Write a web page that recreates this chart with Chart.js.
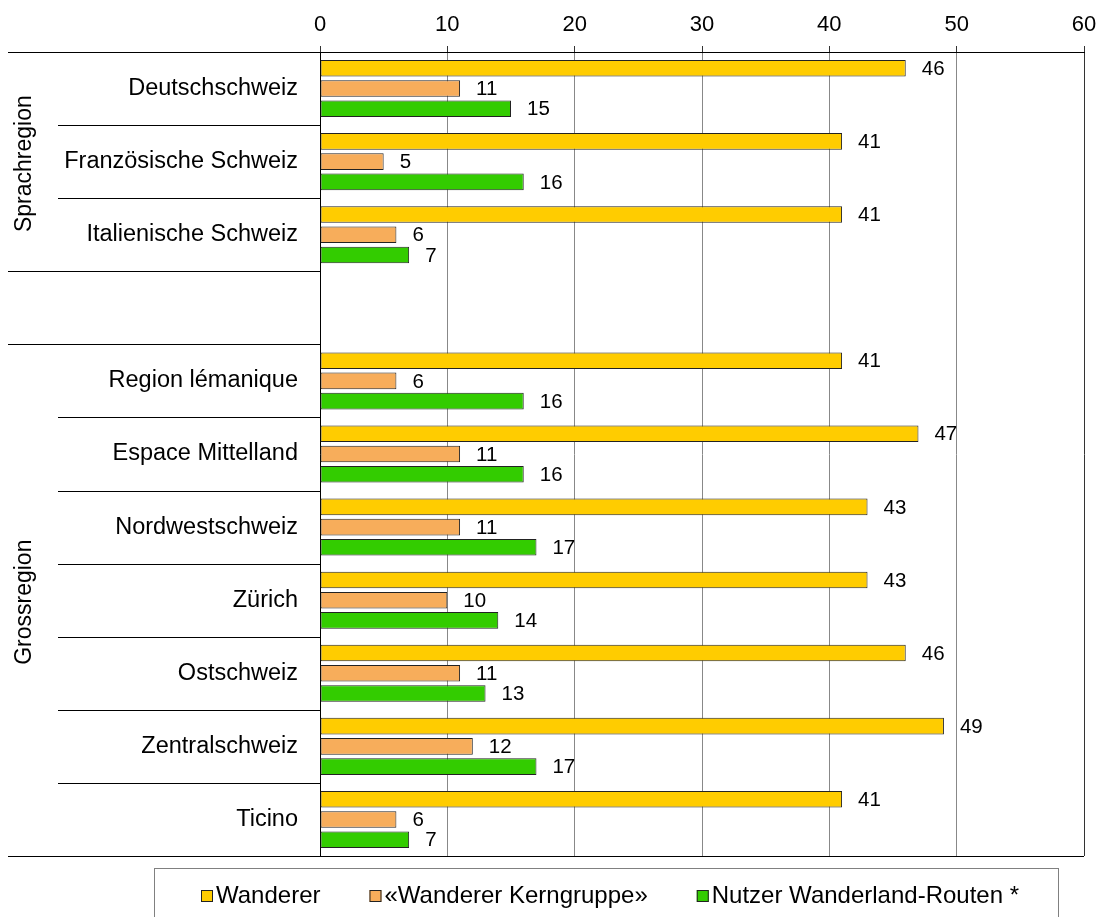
<!DOCTYPE html>
<html>
<head>
<meta charset="utf-8">
<script src="https://cdn.jsdelivr.net/npm/chart.js@4"></script>
<style>
  html, body { margin: 0; padding: 0; background: #fff; }
  #wrap { width: 1099px; height: 917px; }
</style>
</head>
<body>
<div id="wrap"><canvas id="wanderChart" width="1099" height="917"></canvas></div>
<script>
// categories (empty entry = gap between the two groups)
const regions = ['Deutschschweiz', 'Französische Schweiz', 'Italienische Schweiz', '',
  'Region lémanique', 'Espace Mittelland', 'Nordwestschweiz', 'Zürich',
  'Ostschweiz', 'Zentralschweiz', 'Ticino'];

// values in %
const wanderer   = [46, 41, 41, null, 41, 47, 43, 43, 46, 49, 41];
const kerngruppe = [11, 5, 6, null, 6, 11, 11, 10, 11, 12, 6];
const nutzer     = [15, 16, 7, null, 16, 16, 17, 14, 13, 17, 7];

const seriesNames = ['Wanderer', '«Wanderer Kerngruppe»', 'Nutzer Wanderland-Routen *'];
const xTicks = [0, 10, 20, 30, 40, 50, 60];

// group labels on the left: [text, index of the category it is centred on]
const groups = [['Sprachregion', 1], ['Grossregion', 7]];
const groupEdges = [0, 3, 4, 11]; // separator lines that run out to the left edge

const FONT = "'Liberation Sans', Arial, sans-serif";
const colors = ['#FFCC00', '#F7AD5B', '#33CC00'];

const ctx = document.getElementById('wanderChart').getContext('2d');

// separators, group labels, value labels and the boxed legend
const extras = {
    id: 'extras',
    afterDatasetsDraw(chart) {
        const c = chart.ctx;
        c.save();
        c.font = '20.5px ' + FONT;
        c.fillStyle = '#000';
        c.textAlign = 'left';
        c.textBaseline = 'middle';
        chart.data.datasets.forEach((ds, di) => {
            const meta = chart.getDatasetMeta(di);
            meta.data.forEach((bar, i) => {
                if (ds.data[i] == null) return;
                c.fillText(ds.data[i], bar.x + 16, bar.y + 1);
            });
        });
        c.restore();
    },
    afterDraw(chart) {
        const c = chart.ctx;
        const area = chart.chartArea;
        const y = chart.scales.y;
        const half = (y.getPixelForValue(1) - y.getPixelForValue(0)) / 2;
        c.save();
        c.strokeStyle = '#000';
        c.lineWidth = 1;
        for (let k = 0; k <= regions.length; k++) {
            const py = Math.round(y.getPixelForValue(0) - half + k * 2 * half) + 0.5;
            const outer = groupEdges.includes(k);
            const x0 = outer ? 8 : 58;
            const x1 = (k === 0 || k === regions.length) ? area.right : area.left;
            c.beginPath();
            c.moveTo(x0, py);
            c.lineTo(x1, py);
            c.stroke();
        }

        // rotated group labels
        c.font = '23px ' + FONT;
        c.fillStyle = '#000';
        c.textAlign = 'center';
        c.textBaseline = 'middle';
        groups.forEach(([txt, idx]) => {
            c.save();
            c.translate(25, y.getPixelForValue(idx) + 2);
            c.rotate(-Math.PI / 2);
            c.fillText(txt, 0, 0);
            c.restore();
        });

        // legend box
        c.strokeStyle = '#808080';
        c.strokeRect(154.5, 868.5, 904, 70);
        c.font = '24px ' + FONT;
        c.textAlign = 'left';
        let x = 201;
        const cy = 896;
        chart.data.datasets.forEach((ds, di) => {
            c.fillStyle = ds.backgroundColor;
            c.fillRect(x, cy - 6, 12, 12);
            c.strokeStyle = '#222';
            c.strokeRect(x + 0.5, cy - 5.5, 11, 11);
            c.fillStyle = '#000';
            c.fillText(ds.label, x + 15, cy);
            x += 15 + c.measureText(ds.label).width + 49;
        });
        c.restore();
    }
};

const wanderChart = new Chart(ctx, {
    type: 'bar',
    data: {
        labels: regions,
        datasets: [wanderer, kerngruppe, nutzer].map((d, i) => ({
            label: seriesNames[i],
            data: d,
            backgroundColor: colors[i],
            borderColor: '#222',
            borderWidth: 1,
            borderSkipped: false,
            categoryPercentage: 0.83,
            barPercentage: 0.82
        }))
    },
    options: {
        indexAxis: 'y',
        responsive: false,
        animation: false,
        layout: { padding: { top: 0, left: 0, right: 15, bottom: 61 } },
        plugins: {
            legend: { display: false },
            tooltip: { enabled: false }
        },
        scales: {
            x: {
                position: 'top',
                min: 0,
                max: 60,
                afterBuildTicks: (scale) => { scale.ticks = xTicks.map(v => ({ value: v })); },
                afterFit: (scale) => {
                    scale.height = 52;
                    scale.paddingLeft = 0;
                    scale.paddingRight = 0;
                },
                ticks: {
                    font: { family: FONT, size: 22 },
                    color: '#000',
                    padding: 8,
                    maxRotation: 0
                },
                grid: {
                    color: (c) => c.tick && c.tick.value === 60 ? '#333' : '#888',
                    lineWidth: 1,
                    drawTicks: true,
                    tickLength: 6,
                    tickColor: '#333'
                },
                border: { display: true, color: '#000' }
            },
            y: {
                afterFit: (scale) => { scale.width = 320; },
                ticks: {
                    font: { family: FONT, size: 23.5 },
                    color: '#000',
                    padding: 22,
                    autoSkip: false
                },
                grid: { display: false, drawTicks: false },
                border: { display: true, color: '#000' }
            }
        }
    },
    plugins: [extras]
});
</script>
</body>
</html>
